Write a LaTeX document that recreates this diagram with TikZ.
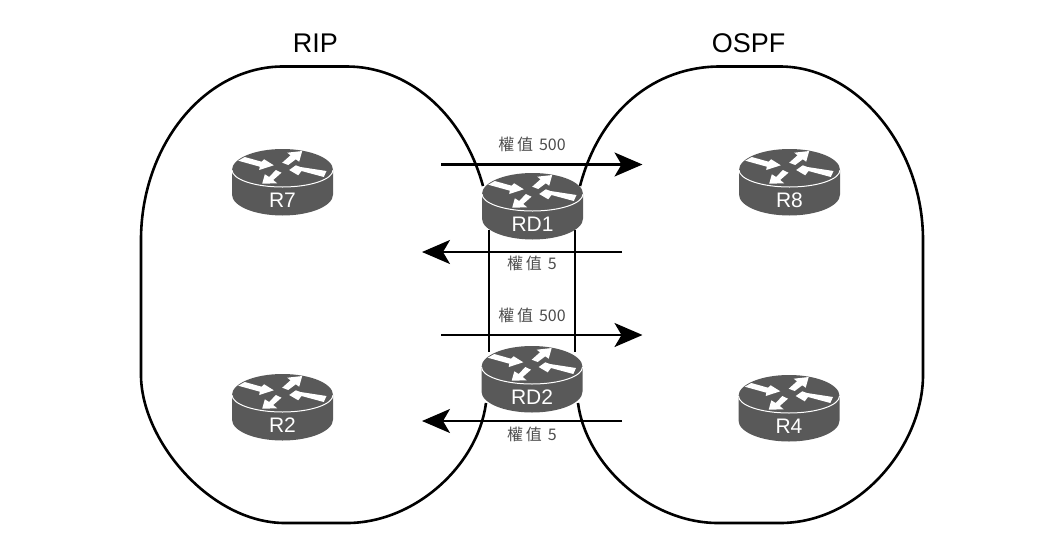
\documentclass[tikz,border=0pt]{standalone}
\usepackage{fontspec}
\setmainfont{Liberation Sans}
\newfontfamily\cjk{Noto Sans CJK TC}
\usetikzlibrary{arrows.meta}
\newcommand{\routercolor}{black!65!white}
\newcommand{\linew}{2.6pt}
\newcommand{\weightgap}{\hspace{6pt}}
\tikzset{
    edge/.style={line width=\linew, black},
    flow/.style={line width=2.1pt, black, -{Stealth[length=28pt,width=24pt,inset=7pt]}},
    weight/.style={font=\cjk\fontsize{16}{16}\selectfont, text=black!70!white, inner sep=0pt},
    title/.style={font=\fontsize{27}{27}\selectfont, inner sep=0pt},
    pics/router/.style={code={
        % body
        \fill[\routercolor] (-50.5,0) -- (-50.5,24.5) arc[start angle=180, end angle=0, x radius=50.5, y radius=21] -- (50.5,0) arc[start angle=0, end angle=-180, x radius=50.5, y radius=21] -- cycle;
        \draw[white, line width=1pt] (-50.5,0) arc[start angle=180, end angle=0, x radius=50.5, y radius=17];
        % arrows
        \fill[white] (-44.3,-9.3) -- (-37.7,-13) -- (-21,-8.3) -- (-18.3,-10.7) -- (-8.7,-4.7) -- (-23.3,0) -- (-22.7,-3.3) -- cycle;
        \fill[white] (-0.3,-7.3) -- (5.7,-5) -- (13.3,-10.7) -- (16.7,-8.3) -- (19.7,-19) -- (4.7,-17.3) -- (8,-14.7) -- cycle;
        \fill[white] (44,1) -- (41.3,7) -- (19,1) -- (15.7,5.3) -- (6.7,0) -- (13.3,-4.7) -- (18,-3) -- cycle;
        \fill[white] (-6.7,0) -- (-1,2.7) -- (-9.3,10) -- (-5.3,13.3) -- (-20.3,13.7) -- (-17.7,4.3) -- (-13.3,7) -- cycle;
        \node[white, inner sep=0pt, font=\fontsize{21}{21}\selectfont] (-label) at (0,30) {#1};
    }}
}
\begin{document}
\begin{tikzpicture}[x=1pt, y=-1pt]
    \useasboundingbox (0,0) rectangle (1060,544);

    \coordinate (ripA) at (483,186);
    \coordinate (ripB) at (486,403);
    \coordinate (ospfA) at (580,186);
    \coordinate (ospfB) at (578,403);

    \coordinate (linkAL) at (489,230);
    \coordinate (linkAR) at (575,230);
    \coordinate (linkBL) at (489,352);
    \coordinate (linkBR) at (575,352);

    % areas
    \draw[edge] (ripA) .. controls (462,110) and (405,66.5) .. (347,66.5) -- (283,66.5) .. controls (205,66.5) and (141,145) .. (141,240) -- (141,375) .. controls (141,440) and (210,523) .. (285,523) -- (347,523) .. controls (415,523) and (478,465) .. (ripB);
    \draw[edge] (ospfA) .. controls (600,110) and (655,66.5) .. (720,66.5) -- (780,66.5) .. controls (855,66.5) and (923,145) .. (923,240) -- (923,375) .. controls (923,445) and (860,523) .. (780,523) -- (718,523) .. controls (650,523) and (586,465) .. (ospfB);

    % links
    \draw[edge] (linkAL) -- (linkBL);
    \draw[edge] (linkAR) -- (linkBR);

    % routers
    \pic (r7) at (282.5,170) {router={R7}};
    \pic (r8) at (789.5,170) {router={R8}};
    \pic (r2) at (282.5,395) {router={R2}};
    \pic (r4) at (789,396) {router={R4}};
    \pic (rd1) at (532.5,194) {router={RD1}};
    \pic (rd2) at (532,367) {router={RD2}};

    % flows
    \coordinate (outAs) at (441,164.5);
    \coordinate (outAe) at (642.5,164.5);
    \coordinate (inAs) at (622,252);
    \coordinate (inAe) at (422,252);
    \coordinate (outBs) at (441,335);
    \coordinate (outBe) at (642.5,335);
    \coordinate (inBs) at (622,421);
    \coordinate (inBe) at (422,421);
    \draw[flow] (outAs) -- (outAe);
    \draw[flow] (inAs) -- (inAe);
    \draw[flow] (outBs) -- (outBe);
    \draw[flow] (inBs) -- (inBe);

    % labels
    \node[title] (ripname) at (315.5,43) {RIP};
    \node[title] (ospfname) at (748.5,43) {OSPF};
    \node[weight] (wA) at (532,144) {權\,值\weightgap 500};
    \node[weight] (wB) at (532,263) {權\,值\weightgap 5};
    \node[weight] (wC) at (532,315) {權\,值\weightgap 500};
    \node[weight] (wD) at (532,434) {權\,值\weightgap 5};
\end{tikzpicture}
\end{document}
